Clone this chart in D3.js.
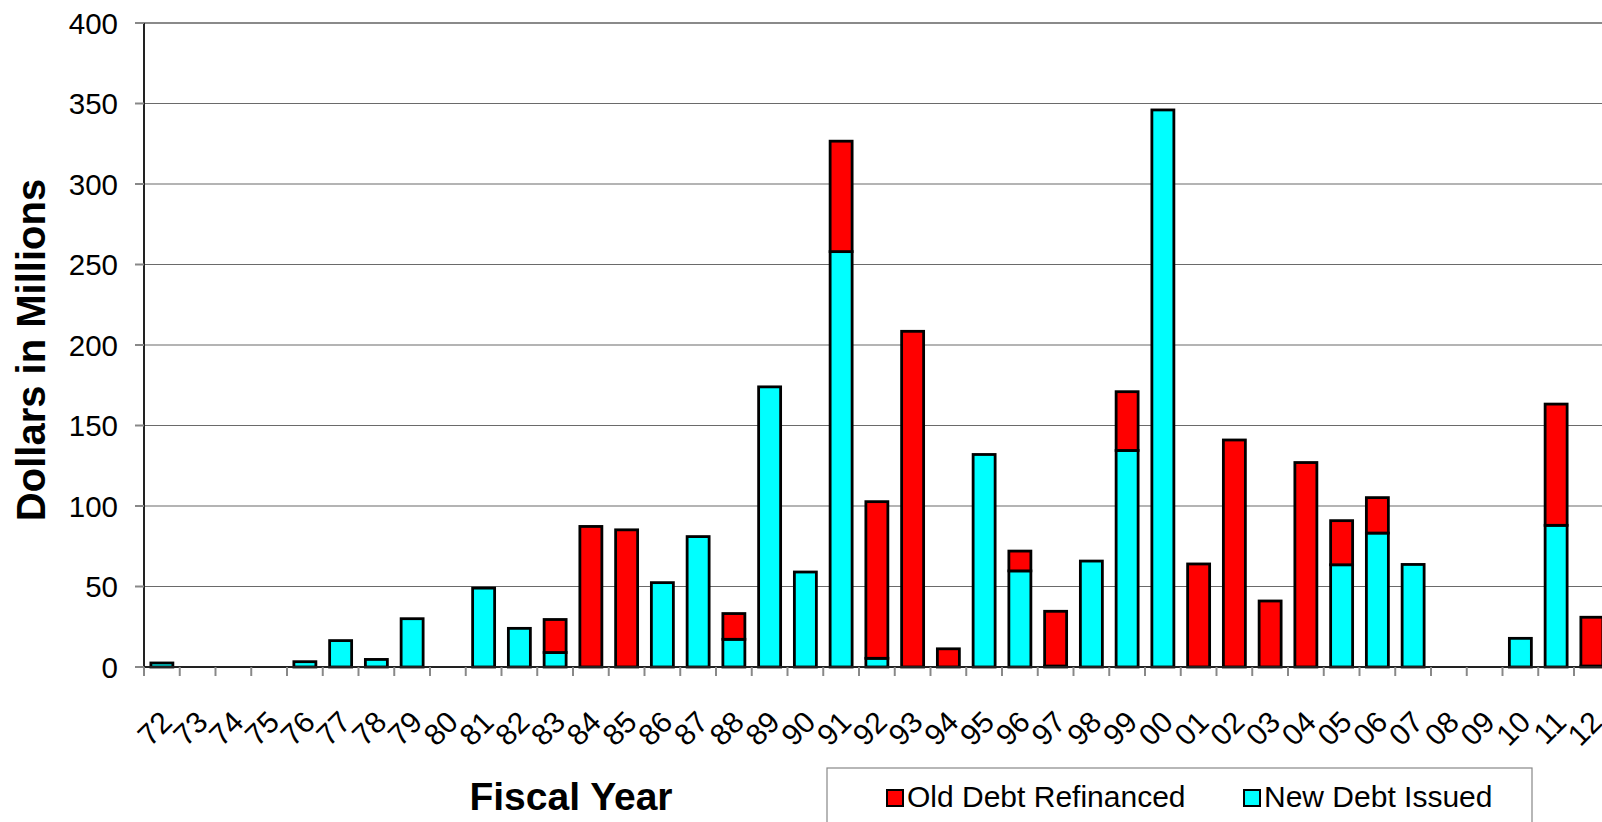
<!DOCTYPE html>
<html>
<head>
<meta charset="utf-8">
<script src="https://cdn.jsdelivr.net/npm/d3@7/dist/d3.min.js"></script>
<style>
html,body{margin:0;padding:0;background:#fff;overflow:hidden;}
svg{display:block;font-family:"Liberation Sans",Arial,sans-serif;}
</style>
</head>
<body>
<svg id="chart" width="1602" height="822"></svg>
<script>
const years = ['72','73','74','75','76','77','78','79','80','81','82','83','84','85','86','87','88','89','90','91','92','93','94','95','96','97','98','99','00','01','02','03','04','05','06','07','08','09','10','11','12'];
const newDebt = [2.5,0,0,0,3.3,16.4,4.7,30,0,49,24,9,0,0,52.4,81,17.2,174,59,258,5.4,0,0,132,59.7,0.6,65.8,134.5,346,0,0,0,0,63.5,83.2,63.7,0,0,17.8,88,0.6];
const oldDebt = [0,0,0,0,0,0,0,0,0,0,0,20.5,87.3,85.2,0,0,16,0,0,68.6,97.3,208.5,11.3,0,12.3,34,0,36.5,0,64,141,41,127,27.4,22,0,0,0,0,75.3,30.3];
const yTicks = [0,50,100,150,200,250,300,350,400];
const seriesNames = ['Old Debt Refinanced','New Debt Issued'];
const seriesColors = ['#FF0000','#00FFFF'];

const svg = d3.select('#chart');
const plotLeft = 144, plotTop = 23, plotBottom = 667;
const stepPx = 35.75;
const plotRight = plotLeft + stepPx * years.length;

const x = d3.scaleBand().domain(years).range([plotLeft, plotRight]).paddingInner(0.3846).paddingOuter(0.1923);
const y = d3.scaleLinear().domain([0,400]).range([plotBottom, plotTop]);

// gridlines
svg.append('g').selectAll('line').data(yTicks.filter(d=>d>0)).join('line')
  .attr('x1', plotLeft).attr('x2', plotRight)
  .attr('y1', d=>y(d)).attr('y2', d=>y(d))
  .attr('stroke', d=> d===400 ? '#8a8a8a' : '#6a6a6a')
  .attr('stroke-width', d=> d===400 ? 2 : 1.2);

// bars
const rows = years.map((yr,i)=>({yr, n:newDebt[i], o:oldDebt[i]}));
const stack = d3.stack().keys(['n','o'])(rows);
const colorByKey = {n: seriesColors[1], o: seriesColors[0]};
stack.forEach(layer=>{
  svg.append('g').selectAll('rect').data(layer.filter(d=>d[1]-d[0]>0)).join('rect')
    .attr('x', d=>x(d.data.yr))
    .attr('width', x.bandwidth())
    .attr('y', d=>y(d[1]))
    .attr('height', d=>y(d[0])-y(d[1]))
    .attr('fill', colorByKey[layer.key])
    .attr('stroke', '#000')
    .attr('stroke-width', 2.8);
});

// x axis
svg.append('line').attr('x1', plotLeft).attr('x2', plotRight).attr('y1', plotBottom).attr('y2', plotBottom)
  .attr('stroke', '#222').attr('stroke-width', 2);
svg.append('g').selectAll('line').data(d3.range(years.length+1)).join('line')
  .attr('x1', i=>plotLeft + i*x.step()).attr('x2', i=>plotLeft + i*x.step())
  .attr('y1', plotBottom).attr('y2', plotBottom+9)
  .attr('stroke', '#888').attr('stroke-width', 2);
svg.append('g').selectAll('text').data(years).join('text')
  .attr('transform', d=>`translate(${x(d)+x.bandwidth()/2+12},${plotBottom+57}) rotate(-45)`)
  .attr('text-anchor','end')
  .attr('font-size', 30)
  .attr('fill','#000')
  .text(d=>d);

// y axis
svg.append('line').attr('x1', plotLeft).attr('x2', plotLeft).attr('y1', plotTop).attr('y2', plotBottom)
  .attr('stroke', '#222').attr('stroke-width', 2);
svg.append('g').selectAll('line').data(yTicks).join('line')
  .attr('x1', plotLeft-9).attr('x2', plotLeft)
  .attr('y1', d=>y(d)).attr('y2', d=>y(d))
  .attr('stroke', '#888').attr('stroke-width', 2);
svg.append('g').selectAll('text').data(yTicks).join('text')
  .attr('x', 118).attr('y', d=>y(d))
  .attr('dy', '0.36em')
  .attr('text-anchor','end')
  .attr('font-size', 29.5)
  .text(d=>d);

// axis titles
svg.append('text')
  .attr('transform', `translate(45,${(plotTop+plotBottom)/2+5}) rotate(-90)`)
  .attr('text-anchor','middle')
  .attr('font-size', 40).attr('font-weight','bold')
  .text('Dollars in Millions');
svg.append('text')
  .attr('x', 571).attr('y', 810)
  .attr('text-anchor','middle')
  .attr('font-size', 39).attr('font-weight','bold')
  .text('Fiscal Year');

// legend
svg.append('rect').attr('x', 827).attr('y', 768).attr('width', 705).attr('height', 80)
  .attr('fill','#fff').attr('stroke','#888').attr('stroke-width',1.2);
const legendX = [887, 1244];
seriesNames.forEach((name,i)=>{
  svg.append('rect').attr('x', legendX[i]).attr('y', 790).attr('width', 16).attr('height', 16)
    .attr('fill', seriesColors[i]).attr('stroke','#000').attr('stroke-width',2);
  svg.append('text').attr('x', legendX[i]+20).attr('y', 807)
    .attr('font-size', 30).text(name);
});
</script>
</body>
</html>
